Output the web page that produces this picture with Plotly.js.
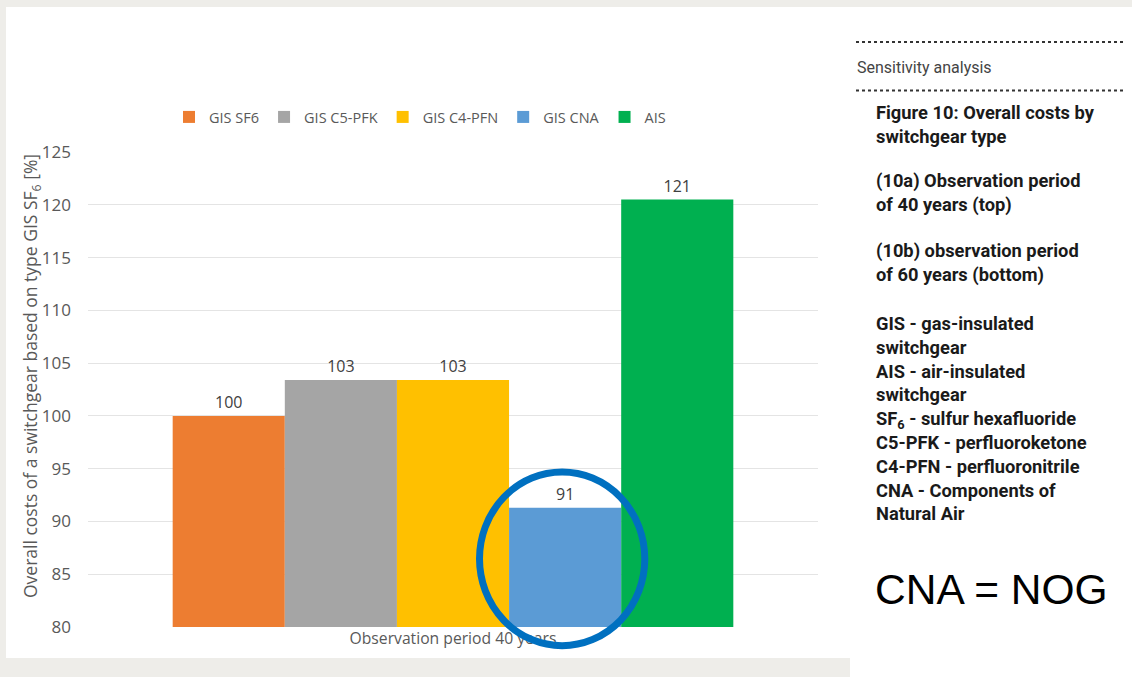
<!DOCTYPE html>
<html>
<head>
<meta charset="utf-8">
<script src="https://cdn.plot.ly/plotly-3.0.1.min.js"></script>
<style>html,body{margin:0;padding:0;background:#eeede9;}#chart{width:1132px;height:677px;}</style>
</head>
<body>
<div id="chart"></div>
<script>
// ---- data ----
const categories = ["Observation period 40 years"];
const seriesNames = ["GIS SF6", "GIS C5-PFK", "GIS C4-PFN", "GIS CNA", "AIS"];
const gisSF6 = [100];
const gisC5PFK = [103.4];
const gisC4PFN = [103.4];
const gisCNA = [91.3];
const ais = [120.5];
const seriesColors = ["#ed7d31", "#a5a5a5", "#ffc000", "#5b9bd5", "#00b050"];
const yTicks = [80, 85, 90, 95, 100, 105, 110, 115, 120, 125];
const yTitle = "Overall costs of a switchgear based on type GIS SF<sub>6</sub> [%]";
const sideHeader = "Sensitivity analysis";
const sideBlocks = [
  "Figure 10: Overall costs by<br>switchgear type",
  "(10a) Observation period<br>of 40 years (top)",
  "(10b) observation period<br>of 60 years (bottom)",
  "GIS - gas-insulated<br>switchgear<br>AIS - air-insulated<br>switchgear<br>SF<sub>6</sub> - sulfur hexafluoride<br>C5-PFK - perfluoroketone<br>C4-PFN - perfluoronitrile<br>CNA - Components of<br>Natural Air"
];
const noteText = "CNA = NOG";

const seriesValues = [gisSF6, gisC5PFK, gisC4PFN, gisCNA, ais];

const chartFont = "Open Sans, sans-serif";
const sideFont = "Roboto, sans-serif";

const traces = seriesNames.map((name, i) => ({
  type: "bar",
  name: name,
  x: categories,
  y: seriesValues[i],
  marker: { color: seriesColors[i] },
  texttemplate: "%{y:.0f}",
  textposition: "outside",
  textfont: { family: chartFont, size: 16, color: "#404040" },
  cliponaxis: false,
  hoverinfo: "skip"
}));

// pixel -> paper helpers (plot area: x 88..818, y 152..627)
const L = 88, R = 818, T = 152, B = 627;
const px = v => (v - L) / (R - L);
const py = v => (B - v) / (B - T);

const shapes = [
  { type: "rect", xref: "paper", yref: "paper", x0: px(6), x1: px(850), y0: py(7), y1: py(658), fillcolor: "#ffffff", line: { width: 0 }, layer: "below" },
  { type: "rect", xref: "paper", yref: "paper", x0: px(850), x1: px(1132), y0: py(7), y1: py(677), fillcolor: "#ffffff", line: { width: 0 }, layer: "below" },
  { type: "line", xref: "paper", yref: "paper", x0: px(856), x1: px(1126), y0: py(42), y1: py(42), line: { color: "#333333", width: 2, dash: "dot" } },
  { type: "line", xref: "paper", yref: "paper", x0: px(856), x1: px(1126), y0: py(90.5), y1: py(90.5), line: { color: "#333333", width: 2, dash: "dot" } },
  { type: "circle", xref: "paper", yref: "paper", x0: px(479.5), x1: px(644.8), y0: py(645.7), y1: py(472), line: { color: "#0070c0", width: 7 }, layer: "above" }
];

const blockCenters = [124.7, 193.3, 263.3, 418];
const annotations = [
  { xref: "paper", yref: "paper", x: px(31), y: py(376), text: yTitle, textangle: -90, showarrow: false,
    font: { family: chartFont, size: 17.5, color: "#595959" }, xanchor: "center", yanchor: "middle" },
  { xref: "paper", yref: "paper", x: px(855), y: py(68), text: sideHeader, showarrow: false, xanchor: "left", yanchor: "middle",
    font: { family: sideFont, size: 16, color: "#444444" } },
  ...sideBlocks.map((t, i) => ({
    xref: "paper", yref: "paper", x: px(874), y: py(blockCenters[i]), text: t, showarrow: false,
    xanchor: "left", yanchor: "middle", align: "left",
    font: { family: sideFont, size: 18.3, color: "#1a1a1a", weight: 700 }
  })),
  { xref: "paper", yref: "paper", x: px(873), y: py(589), text: noteText, showarrow: false, xanchor: "left", yanchor: "middle",
    font: { family: "Liberation Sans, Arial, sans-serif", size: 42.5, color: "#000000" } }
];

const layout = {
  width: 1132, height: 677,
  margin: { l: L, r: 1132 - R, t: T, b: 677 - B, pad: 0 },
  paper_bgcolor: "#eeede9",
  plot_bgcolor: "rgba(0,0,0,0)",
  barmode: "group",
  bargap: 0.232,
  bargroupgap: 0,
  showlegend: true,
  legend: {
    orientation: "h", x: px(420), xanchor: "center", y: py(117), yanchor: "middle",
    font: { family: chartFont, size: 14.5, color: "#595959" }, bgcolor: "rgba(0,0,0,0)", traceorder: "normal"
  },
  xaxis: {
    type: "category", showgrid: false, zeroline: false, showline: false, ticks: "",
    tickfont: { family: chartFont, size: 15.7, color: "#595959" }
  },
  yaxis: {
    range: [80, 125], tickvals: yTicks, showgrid: true, gridcolor: "#e4e4e4", gridwidth: 1,
    zeroline: false, showline: false, ticks: "", ticklabelstandoff: 16,
    tickfont: { family: chartFont, size: 17, color: "#595959" }
  },
  shapes: shapes,
  annotations: annotations
};

Plotly.newPlot("chart", traces, layout, { displayModeBar: false, staticPlot: true });
</script>
</body>
</html>
